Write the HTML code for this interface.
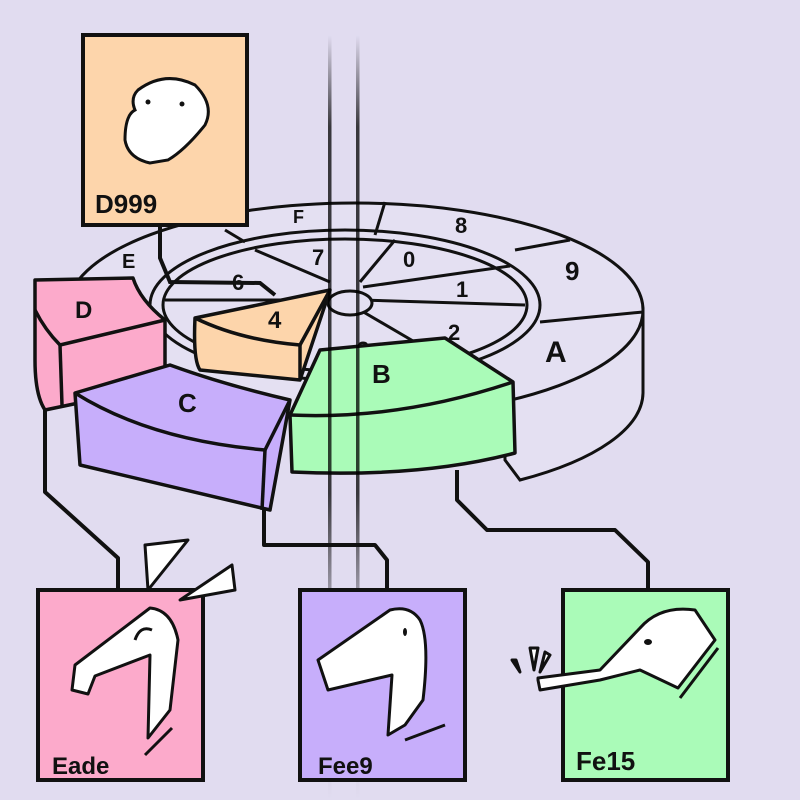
<!DOCTYPE html>
<html><head><style>
html,body{margin:0;padding:0;background:#e1dcf0;}
svg{display:block}
text{font-family:"Liberation Sans",sans-serif;font-weight:bold;fill:#111;}
</style></head><body>
<svg width="800" height="800" viewBox="0 0 800 800" xmlns="http://www.w3.org/2000/svg">
<defs>
<linearGradient id="vl" x1="0" y1="0" x2="0" y2="1">
<stop offset="0" stop-color="#000" stop-opacity="0"/>
<stop offset="0.12" stop-color="#000" stop-opacity="1"/>
<stop offset="0.6" stop-color="#000" stop-opacity="1"/>
<stop offset="0.75" stop-color="#000" stop-opacity="0.3"/>
<stop offset="1" stop-color="#000" stop-opacity="0"/>
</linearGradient>
</defs>
<rect width="800" height="800" fill="#e1dcf0"/>

<!-- ring side band -->
<g stroke="#111" stroke-width="3" fill="#e4e0f2">
<path d="M643,310 L643,393 A288,107 0 0 1 520,480 L505,460 L505,400 Z"/>
<ellipse cx="355" cy="310" rx="288" ry="107"/>
<ellipse cx="345" cy="305" rx="195" ry="75"/>
<ellipse cx="345" cy="305" rx="182" ry="66"/>
<line x1="540" y1="322" x2="643" y2="312"/>
<line x1="515" y1="250" x2="570" y2="240"/>
<line x1="385" y1="202" x2="375" y2="235"/>
<line x1="225" y1="230" x2="245" y2="242"/>
<line x1="363" y1="287" x2="510" y2="266"/>
<line x1="360" y1="300" x2="525" y2="305"/>
<line x1="360" y1="310" x2="425" y2="348"/>
<line x1="360" y1="282" x2="395" y2="240"/>
<line x1="330" y1="282" x2="255" y2="250"/>
<line x1="165" y1="300" x2="320" y2="300"/>
<ellipse cx="350" cy="303" rx="22" ry="12"/>
</g>
<g font-size="22">
<text x="293" y="223" font-size="18">F</text>
<text x="455" y="233">8</text>
<text x="565" y="280" font-size="26">9</text>
<text x="545" y="362" font-size="30">A</text>
<text x="122" y="268" font-size="20">E</text>
<text x="312" y="265">7</text>
<text x="403" y="267">0</text>
<text x="456" y="297">1</text>
<text x="448" y="340">2</text>
<text x="232" y="290">6</text>
<text x="357" y="357">3</text>
</g>

<polyline points="160,226 160,258 170,282 260,283 275,295" fill="none" stroke="#111" stroke-width="4"/>

<rect x="83" y="35" width="164" height="190" fill="#fdd5ab" stroke="#111" stroke-width="4"/>
<path d="M138,90 Q165,70 195,85 Q215,105 205,125 Q185,150 168,160 L150,163 Q128,158 125,140 Q125,115 135,110 Q130,98 138,90Z" fill="#fff" stroke="#111" stroke-width="3"/>
<circle cx="148" cy="102" r="2.5" fill="#111"/><circle cx="182" cy="104" r="2.5" fill="#111"/>
<text x="95" y="213" font-size="26">D999</text>

<g stroke="#111" stroke-width="3.5" stroke-linejoin="round">
<path d="M35,280 L133,278 Q140,300 165,320 L165,385 L45,410 Q35,395 35,360Z" fill="#fcaacb"/>
<path d="M35,310 Q45,330 60,345 L165,320" fill="none"/>
<line x1="60" y1="345" x2="62" y2="405"/>
</g>
<text x="75" y="318" font-size="24">D</text>

<g stroke="#111" stroke-width="3.5" stroke-linejoin="round">
<path d="M195,318 L330,290 L300,380 L200,370 Q193,360 195,318Z" fill="#fdd5ab"/>
<path d="M195,318 Q240,340 300,345 L330,290" fill="none"/>
<line x1="300" y1="345" x2="300" y2="380"/>
</g>
<text x="268" y="328" font-size="24">4</text>

<g stroke="#111" stroke-width="3.5" stroke-linejoin="round">
<path d="M75,393 L170,365 Q225,385 290,400 L270,510 L80,465Z" fill="#c7aefb"/>
<path d="M75,393 Q150,440 265,450 L290,400" fill="none"/>
<line x1="265" y1="450" x2="262" y2="510"/>
</g>
<text x="178" y="412" font-size="26">C</text>

<g stroke="#111" stroke-width="3.5" stroke-linejoin="round">
<path d="M320,350 L445,338 L513,382 L515,453 Q420,478 292,472 L290,415Z" fill="#aafbb8"/>
<path d="M290,415 Q400,420 513,382" fill="none"/>
</g>
<text x="372" y="383" font-size="26">B</text>

<rect x="328" y="35" width="3.5" height="765" fill="url(#vl)" opacity="0.75"/>
<rect x="356" y="35" width="3.5" height="765" fill="url(#vl)" opacity="0.75"/>

<g fill="none" stroke="#111" stroke-width="4" stroke-linejoin="round">
<polyline points="45,410 45,492 118,558 118,588"/>
<polyline points="264,510 264,545 375,545 387,560 387,588"/>
<polyline points="457,470 457,500 487,530 615,530 648,562 648,588"/>
</g>

<g stroke="#111" stroke-width="4">
<rect x="38" y="590" width="165" height="190" fill="#fcaacb"/>
<rect x="300" y="590" width="165" height="190" fill="#c7aefb"/>
<rect x="563" y="590" width="165" height="190" fill="#aafbb8"/>
</g>
<g stroke="#111" stroke-width="3" fill="#fff" stroke-linejoin="round">
<path d="M145,545 L188,540 L148,590Z"/>
<path d="M180,600 L232,565 L235,590Z"/>
<path d="M72,690 L88,694 L95,676 L150,655 L148,738 L170,710 L178,640 Q172,610 150,608 L75,665Z"/>
<path d="M135,640 Q140,625 152,630" fill="none"/>
<line x1="145" y1="755" x2="172" y2="728"/>
</g>
<g stroke="#111" stroke-width="3" fill="#fff" stroke-linejoin="round">
<path d="M318,660 L328,690 L392,675 L388,735 L405,725 L423,700 Q430,640 420,620 Q410,605 390,610 Z"/>
<line x1="405" y1="740" x2="445" y2="725"/>
</g>
<ellipse cx="405" cy="632" rx="2" ry="4" fill="#111"/>
<g stroke="#111" stroke-width="3" fill="#fff" stroke-linejoin="round">
<path d="M538,680 L540,690 L600,680 L640,670 L678,688 L715,640 L695,610 Q660,605 640,628 L600,670 L538,678Z"/>
<path d="M512,660 L520,672 L516,660Z"/>
<path d="M530,648 L534,670 L538,648Z"/>
<path d="M545,652 L540,672 L550,655Z"/>
<line x1="680" y1="698" x2="718" y2="648"/>
</g>
<ellipse cx="648" cy="642" rx="4" ry="3" fill="#111"/>
<text x="52" y="774" font-size="24">Eade</text>
<text x="318" y="774" font-size="24">Fee9</text>
<text x="576" y="770" font-size="26">Fe15</text>
</svg>
</body></html>
